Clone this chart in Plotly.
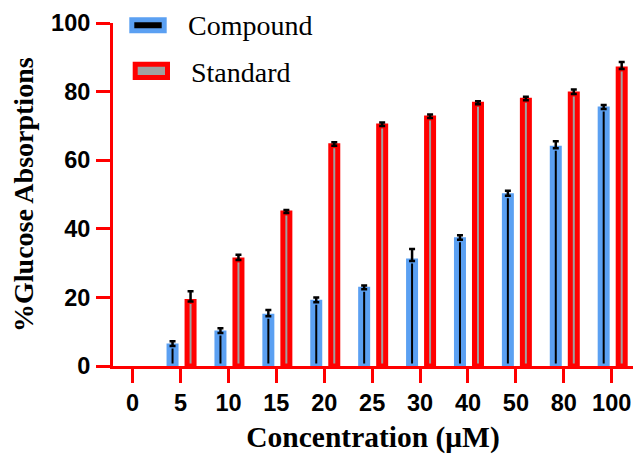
import plotly.graph_objects as go

# ---- data ----
concentrations = ["0", "5", "10", "15", "20", "25", "30", "40", "50", "80", "100"]
compound = [0, 5.8, 9.6, 14.5, 18.6, 22.4, 30.6, 36.8, 49.6, 63.5, 74.9]
compound_err = [0, 1.4, 1.4, 1.8, 1.4, 1.1, 3.5, 1.3, 1.5, 2.0, 1.2]
standard = [0, 18.8, 30.9, 44.6, 64.2, 70.0, 72.3, 76.3, 77.5, 79.3, 86.6]
standard_err = [0, 3.0, 1.5, 0.9, 1.0, 1.0, 1.0, 0.9, 1.0, 1.3, 2.0]
y_ticks = [0, 20, 40, 60, 80, 100]

BLUE = "#5BA0F2"
RED = "#FF0000"
GRAY = "#A0A0A0"

W, H = 633, 454
ML, MR, MT, MB = 113, 0, 23, 88


def nz(vals):
    # zero-height measurements are not drawn (no bar, no error cap)
    return [v if v else None for v in vals]


fig = go.Figure()
fig.add_trace(go.Bar(
    name="Compound", x=concentrations, y=nz(compound),
    width=0.146, offset=-0.24,
    marker=dict(color="black", line=dict(color=BLUE, width=5)),
    error_y=dict(type="data", array=compound_err, arrayminus=[0] * len(compound_err),
                 symmetric=False, color="black", thickness=2.5, width=3),
    showlegend=False,
))
fig.add_trace(go.Bar(
    name="Standard", x=concentrations, y=nz(standard),
    width=0.146, offset=0.136,
    marker=dict(color=GRAY, line=dict(color=RED, width=5)),
    error_y=dict(type="data", array=standard_err, arrayminus=[0] * len(standard_err),
                 symmetric=False, color="black", thickness=2.5, width=3),
    showlegend=False,
))

# custom legend (pixel helpers -> paper coords)
pw, ph = W - ML - MR, H - MT - MB
def px(x):
    return (x - ML) / pw
def py(y):
    return (H - MB - y) / ph

legend_items = [("Compound", "black", BLUE, 131.8, 164.2, 19.8, 30.8, 185.5, 26.0),
                ("Standard", GRAY, RED, 135.2, 167.5, 64.2, 77.5, 188.5, 72.0)]
for name, fill, line, x0, x1, y0, y1, tx, ty in legend_items:
    fig.add_shape(type="rect", xref="paper", yref="paper",
                  x0=px(x0), x1=px(x1), y0=py(y1), y1=py(y0),
                  fillcolor=fill, line=dict(color=line, width=5))
    fig.add_annotation(text=name, xref="paper", yref="paper", x=px(tx), y=py(ty),
                       xanchor="left", yanchor="middle", showarrow=False,
                       font=dict(family="Liberation Serif", size=28, color="black"))

# y-axis title
fig.add_annotation(text="%Glucose Absorptions", xref="paper", yref="paper",
                   x=px(23), y=py(195), textangle=-90, xanchor="center", yanchor="middle",
                   showarrow=False,
                   font=dict(family="Liberation Serif", size=28, color="black", weight="bold"))

tickfont = dict(family="Liberation Sans", size=23.5, color="black", weight="bold")

fig.update_layout(
    width=W, height=H,
    margin=dict(l=ML, r=MR, t=MT, b=MB),
    paper_bgcolor="white", plot_bgcolor="white",
    barmode="overlay",
    xaxis=dict(
        type="category", categoryorder="array", categoryarray=concentrations,
        range=[-0.41, 10.445],
        showline=True, linecolor=RED, linewidth=3,
        ticks="outside", ticklen=14, tickwidth=3, tickcolor=RED,
        tickfont=tickfont, ticklabelstandoff=0,
        showgrid=False, zeroline=False,
        title=dict(text="Concentration (μM)", standoff=18,
                   font=dict(family="Liberation Serif", size=29.5, color="black", weight="bold")),
    ),
    yaxis=dict(
        range=[0, 100], tickvals=y_ticks,
        showline=True, linecolor=RED, linewidth=3,
        ticks="outside", ticklen=14, tickwidth=3, tickcolor=RED,
        tickfont=tickfont, ticklabelstandoff=1,
        showgrid=False, zeroline=False,
    ),
)

fig.write_html("out.html")
